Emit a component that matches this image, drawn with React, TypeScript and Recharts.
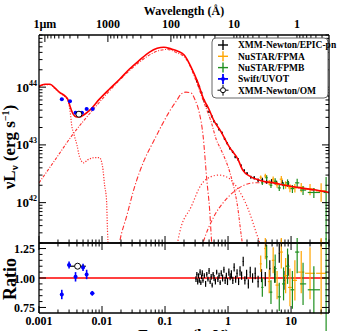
import React from "react";
import { ComposedChart, Line, Scatter, ErrorBar, XAxis, YAxis, ReferenceLine } from "recharts";

const FONT = "'Liberation Serif', 'Times New Roman', serif";
const RED = "#ff0000";
const COMP = "#ff3030";
const ORANGE = "#ffa500";
const GREEN = "#1f8f1f";
const BLUE = "#0000ff";

// energy axis (keV) and wavelength labels on top
const energyMajors = [0.001, 0.01, 0.1, 1, 10];
const waveMajors = [10000, 1000, 100, 10, 1];
const waveLabels = ["1\u00b5m", "1000", "100", "10", "1"];
const lumMajors = [1e42, 1e43, 1e44];
const ratioMajors = [0.75, 1.0, 1.25];
const ratioMinors = [0.75, 0.8, 0.85, 0.9, 0.95, 1.0, 1.05, 1.1, 1.15, 1.2, 1.25];

// ---- model curves, energy (keV) / nuLnu (erg s^-1)
const totalE = [0.001, 0.00124, 0.0015, 0.0018, 0.0021, 0.0026, 0.0029, 0.0031, 0.0034, 0.004, 0.0044, 0.0051, 0.0064, 0.0091, 0.013, 0.019, 0.027, 0.039, 0.056, 0.075, 0.096, 0.124, 0.16, 0.203, 0.26, 0.33, 0.41, 0.5, 0.59, 0.78, 1.04, 1.45, 1.7, 2.3, 3.0, 4.0, 5.3, 8.0, 14, 25, 40];
const totalL = [1.04e44, 1.12e44, 1.12e44, 9.6e43, 8.2e43, 7.0e43, 6.0e43, 4.7e43, 3.6e43, 3.05e43, 3.05e43, 3.3e43, 4.0e43, 6.2e43, 9.2e43, 1.37e44, 2.04e44, 2.9e44, 4.0e44, 4.7e44, 4.9e44, 4.6e44, 4.2e44, 3.56e44, 2.2e44, 1.22e44, 6.2e43, 4.1e43, 2.7e43, 1.67e43, 9.3e42, 5.5e42, 3.7e42, 2.8e42, 2.5e42, 2.3e42, 2.2e42, 2.0e42, 1.8e42, 1.65e42, 1.5e42];

const hostE = [0.001, 0.00124, 0.0015, 0.0018, 0.0021, 0.0026, 0.0029, 0.0031, 0.0033, 0.0036, 0.004, 0.0044, 0.0051, 0.0059, 0.0076, 0.0091, 0.0102, 0.011, 0.0118, 0.0122, 0.0126];
const hostL = [1.02e44, 1.1e44, 1.1e44, 9.4e43, 8.0e43, 6.8e43, 5.6e43, 4.0e43, 2.2e43, 1.5e43, 1.0e43, 6.2e42, 4.9e42, 5.5e42, 6.0e42, 6.0e42, 4.2e42, 2.0e42, 1.1e42, 3.4e41, 1.5e41];

const diskE = [0.001, 0.0018, 0.0033, 0.0071, 0.019, 0.039, 0.075, 0.108, 0.15, 0.21, 0.33, 0.4, 0.54, 0.65, 0.78, 1.1, 1.4, 1.7, 1.95];
const diskL = [2.2e42, 5.5e42, 1.43e43, 4.0e43, 1.32e44, 2.7e44, 4.2e44, 4.5e44, 4.0e44, 3.2e44, 1.08e44, 6.0e43, 2.5e43, 1.24e43, 8.1e42, 3.0e42, 9.3e41, 1.9e41, 1e41];

const warmE = [0.017, 0.0189, 0.025, 0.032, 0.047, 0.067, 0.089, 0.116, 0.155, 0.18, 0.215, 0.26, 0.3, 0.35, 0.4, 0.46, 0.51, 0.55, 0.58];
const warmL = [1e41, 2e41, 6.2e41, 1.7e42, 5.5e42, 1.2e43, 2.2e43, 3.7e43, 6.0e43, 7.6e43, 8.2e43, 7.9e43, 6.0e43, 3.6e43, 1.5e43, 2.5e42, 7.6e41, 2e41, 1e41];

const bumpE = [0.15, 0.17, 0.26, 0.37, 0.53, 0.72, 1.0, 1.45, 2.1, 2.8, 3.2, 3.4];
const bumpL = [1.5e41, 3.0e41, 8.5e41, 2.0e42, 2.8e42, 3.0e42, 2.7e42, 1.7e42, 7.6e41, 3.0e41, 1.9e41, 1.3e41];

const hotE = [0.37, 0.4, 0.6, 0.87, 1.24, 1.79, 2.6, 4.0, 6.0, 10, 14, 20, 40];
const hotL = [1.5e41, 2e41, 5.8e41, 1.05e42, 1.55e42, 2.0e42, 2.2e42, 2.22e42, 2.1e42, 1.88e42, 1.78e42, 1.68e42, 1.48e42];

// ---- data, upper panel
const pnE = [0.32, 0.35, 0.38, 0.42, 0.46, 0.5, 0.55, 0.6, 0.66, 0.72, 0.8, 0.88, 0.97, 1.07, 1.18, 1.3, 1.45, 1.6, 1.8, 2.0, 2.3, 2.6, 3.0, 3.5, 4.1, 4.9, 5.9, 7.2, 9.0];
const pnL = [1.28e44, 1.02e44, 8.0e43, 5.8e43, 4.7e43, 3.75e43, 3.15e43, 2.55e43, 2.25e43, 1.85e43, 1.62e43, 1.28e43, 1.07e43, 8.7e42, 7.6e42, 6.2e42, 5.6e42, 4.4e42, 3.6e42, 3.2e42, 2.75e42, 2.7e42, 2.45e42, 2.5e42, 2.3e42, 2.35e42, 2.2e42, 2.25e42, 2.15e42];
const pnFrac = [0.05, 0.05, 0.05, 0.05, 0.05, 0.05, 0.05, 0.05, 0.05, 0.05, 0.05, 0.05, 0.05, 0.05, 0.05, 0.05, 0.06, 0.06, 0.06, 0.06, 0.06, 0.07, 0.07, 0.08, 0.08, 0.09, 0.09, 0.1, 0.1];

const fpmaE = [3.3, 3.9, 4.5, 5.2, 6.0, 7.0, 8.2, 9.6, 11.5, 14.5, 20, 30];
const fpmaL = [2.75e42, 2.9e42, 2.25e42, 2.55e42, 2.05e42, 2.55e42, 2.05e42, 1.8e42, 1.8e42, 1.85e42, 1.72e42, 1.6e42];
const fpmaFrac = [0.07, 0.09, 0.1, 0.11, 0.12, 0.14, 0.15, 0.16, 0.17, 0.18, 0.22, 0.35];
const fpmaXf = [1.04, 1.04, 1.05, 1.05, 1.06, 1.06, 1.07, 1.07, 1.08, 1.12, 1.2, 1.2];

const fpmbE = [3.5, 4.1, 4.8, 5.6, 6.5, 7.6, 8.8, 10.5, 12.5, 15.5, 23, 36];
const fpmbL = [2.2e42, 2.7e42, 2.0e42, 2.35e42, 1.8e42, 1.98e42, 2.2e42, 1.75e42, 2.2e42, 1.65e42, 1.5e42, 1.5e42];
const fpmbFrac = [0.08, 0.1, 0.1, 0.12, 0.12, 0.14, 0.15, 0.16, 0.18, 0.18, 0.2, 0.85];
const fpmbXf = [1.04, 1.04, 1.05, 1.05, 1.06, 1.06, 1.07, 1.07, 1.08, 1.12, 1.25, 1.1];

const uvotE = [0.0023, 0.0031, 0.0038, 0.0048, 0.0057, 0.0071];
const uvotL = [6.2e43, 5.7e43, 3.6e43, 3.6e43, 4.2e43, 4.2e43];
const omE = [0.0043];
const omL = [3.4e43];

// ---- data, ratio panel
const pnRE = [0.31, 0.32, 0.33, 0.34, 0.35, 0.36, 0.37, 0.38, 0.39, 0.4, 0.42, 0.44, 0.46, 0.48, 0.5, 0.52, 0.54, 0.56, 0.58, 0.6, 0.63, 0.66, 0.69, 0.72, 0.75, 0.78, 0.82, 0.86, 0.9, 0.94, 0.98, 1.03, 1.08, 1.13, 1.19, 1.25, 1.32, 1.39, 1.47, 1.55, 1.64, 1.74, 1.85, 1.97, 2.1, 2.25, 2.45, 2.7, 3.0, 3.4, 3.9, 4.6, 5.5, 6.5, 7.7, 9.0];
const pnR = [0.99, 1.03, 0.97, 1.02, 0.98, 1.05, 0.96, 1.01, 1.04, 0.98, 1.02, 0.95, 1.03, 0.99, 1.06, 0.97, 1.01, 0.94, 1.03, 1.0, 0.97, 1.05, 0.99, 1.02, 0.96, 1.04, 1.0, 1.07, 0.98, 1.02, 0.97, 1.05, 1.01, 1.03, 0.98, 1.09, 0.99, 1.04, 0.97, 1.06, 1.02, 1.14, 0.98, 1.03, 0.95, 1.05, 1.0, 1.04, 0.97, 1.02, 0.99, 1.08, 1.03, 1.21, 0.98, 1.11];
const pnRErr = [0.025, 0.02, 0.025, 0.02, 0.02, 0.025, 0.02, 0.02, 0.025, 0.02, 0.02, 0.025, 0.02, 0.02, 0.025, 0.02, 0.025, 0.02, 0.02, 0.025, 0.025, 0.02, 0.025, 0.025, 0.02, 0.025, 0.03, 0.025, 0.03, 0.025, 0.03, 0.03, 0.03, 0.035, 0.03, 0.035, 0.03, 0.035, 0.03, 0.04, 0.035, 0.04, 0.035, 0.04, 0.04, 0.045, 0.04, 0.05, 0.05, 0.055, 0.06, 0.07, 0.07, 0.08, 0.08, 0.09];

const fpmaR = [1.12, 1.25, 0.97, 1.15, 0.94, 1.22, 1.02, 0.92, 0.98, 1.05, 1.04, 1.04];
const fpmaRErr = [0.07, 0.09, 0.1, 0.11, 0.12, 0.14, 0.15, 0.16, 0.17, 0.18, 0.22, 0.35];
const fpmbR = [0.92, 1.18, 0.88, 1.08, 0.84, 0.95, 1.1, 0.9, 1.22, 0.95, 0.9, 1.0];
const fpmbRErr = [0.08, 0.1, 0.1, 0.12, 0.12, 0.14, 0.15, 0.16, 0.18, 0.18, 0.2, 0.5];

const uvotRE = [0.0023, 0.003, 0.0038, 0.005, 0.0057, 0.007];
const uvotR = [0.86, 1.11, 1.01, 1.09, 1.03, 0.87];
const uvotRErr = [0.04, 0.03, 0.04, 0.03, 0.04, 0.02];
const uvotXf = [1.05, 1.06, 1.06, 1.05, 1.05, 1.08];
const omRE = [0.0041];
const omR = [1.1];

// ---- helpers to build series rows
const curve = (xs: number[], ys: number[]) => xs.map((x, i) => ({ x, y: ys[i] }));
const pts = (xs: number[], ys: number[], yerr: number[], xf: number[] | number, rel: boolean) =>
  xs.map((x, i) => {
    const f = Array.isArray(xf) ? xf[i] : xf;
    const e = rel ? ys[i] * yerr[i] : yerr[i];
    return { x, y: ys[i], ex: [x - x / f, x * f - x], ey: [e, e] };
  });

// major decades plus 2..9 minors inside [lo, hi]
const decadeTicks = (majors: number[], lo: number, hi: number) => {
  const base = Math.min(...majors) / 10;
  const out: number[] = [];
  [base, ...majors].forEach((m) => {
    for (let k = 1; k <= 9; k++) {
      const v = m * k;
      if (v >= lo && v <= hi) out.push(v);
    }
  });
  return out.sort((a, b) => a - b);
};
const energyTicks = decadeTicks(energyMajors, 0.001, 40);
const lumTicks = decadeTicks([1e42, 1e43, 1e44], 2e41, 8e44);
const waveTicks = decadeTicks(waveMajors, 0.31, 12398)
  .map((w) => 12.398 / w)
  .filter((e) => e >= 0.001 && e <= 40)
  .sort((a, b) => a - b);
const waveMajorE = waveMajors.map((w) => 12.398 / w);

const near = (v: number, list: number[]) => list.some((m) => Math.abs(v - m) <= Math.abs(m) * 1e-6);

const txt = { fontFamily: FONT, fontWeight: 700, fill: "#000", stroke: "none" } as const;

type Side = "top" | "bottom" | "left" | "right";
const makeTick =
  (side: Side, majors: number[], label?: (v: number, x: number, y: number) => React.ReactNode) =>
  (p: any) => {
    const { x, y, payload } = p;
    const v = payload.value;
    const major = near(v, majors);
    const len = major ? 7 : 3.5;
    let l;
    if (side === "bottom") l = <line x1={x} x2={x} y1={y} y2={y - len} />;
    else if (side === "top") l = <line x1={x} x2={x} y1={y} y2={y + len} />;
    else if (side === "left") l = <line x1={x} x2={x + len} y1={y} y2={y} />;
    else l = <line x1={x} x2={x - len} y1={y} y2={y} />;
    return (
      <g stroke="#000" strokeWidth={1}>
        {l}
        {major && label ? label(v, x, y) : null}
      </g>
    );
  };

const energyLabel = (v: number, x: number, y: number) => (
  <text x={x} y={y + 12} textAnchor="middle" fontSize={12} {...txt}>
    {String(v)}
  </text>
);
const waveLabel = (v: number, x: number, y: number) => {
  const i = waveMajorE.findIndex((e) => Math.abs(e - v) < e * 1e-6);
  return (
    <text x={x} y={y - 7} textAnchor="middle" fontSize={12} {...txt}>
      {waveLabels[i]}
    </text>
  );
};
const lumLabel = (v: number, x: number, y: number) => (
  <text x={x - 2} y={y + 4.5} textAnchor="end" fontSize={13} {...txt}>
    <tspan>10</tspan>
    <tspan dy={-6} fontSize={8}>
      {Math.round(Math.log10(v))}
    </tspan>
  </text>
);
const ratioLabel = (v: number, x: number, y: number) => (
  <text x={x - 4} y={y + 4.5} textAnchor="end" fontSize={12} {...txt}>
    {v.toFixed(2)}
  </text>
);

const none = () => <g />;
const blueDot = (p: any) => <circle cx={p.cx} cy={p.cy} r={2} fill={BLUE} />;
const openCircle = (p: any) => <circle cx={p.cx} cy={p.cy} r={3} fill="#fff" stroke="#000" strokeWidth={1} />;

const errSeries = (id: string, data: any[], color: string, shape: any, w = 1.2) => (
  <Scatter key={id} name={id} data={data} xAxisId="b" yAxisId="l" shape={shape} isAnimationActive={false}>
    <ErrorBar dataKey="ey" direction="y" width={0} stroke={color} strokeWidth={w} />
    <ErrorBar dataKey="ex" direction="x" width={0} stroke={color} strokeWidth={w} />
  </Scatter>
);

const axisLine = { stroke: "#000", strokeWidth: 1.3 };

const legendRows = [
  { label: "XMM-Newton/EPIC-pn", color: "#000", kind: "plus" },
  { label: "NuSTAR/FPMA", color: ORANGE, kind: "plus" },
  { label: "NuSTAR/FPMB", color: GREEN, kind: "plus" },
  { label: "Swift/UVOT", color: BLUE, kind: "dot" },
  { label: "XMM-Newton/OM", color: "#000", kind: "circle" },
];

export default function App() {
  return (
    <div style={{ position: "absolute", left: 0, top: 0, width: 346, height: 331, background: "#fff", overflow: "hidden" }}>
      <div style={{ position: "absolute", left: 0, top: 0 }}>
        <ComposedChart width={346} height={250} margin={{ top: 34, right: 16, bottom: 6, left: 38 }}>
          <XAxis xAxisId="b" dataKey="x" type="number" scale="log" domain={[0.001, 40]} allowDataOverflow
            ticks={energyTicks} interval={0} height={1} tickSize={0} tickMargin={0} axisLine={axisLine}
            tick={makeTick("bottom", energyMajors)} />
          <XAxis xAxisId="t" orientation="top" dataKey="x" type="number" scale="log" domain={[0.001, 40]} allowDataOverflow
            ticks={waveTicks} interval={0} height={1} tickSize={0} tickMargin={0} axisLine={axisLine}
            tick={makeTick("top", waveMajorE, waveLabel)} />
          <YAxis yAxisId="l" dataKey="y" type="number" scale="log" domain={[2e41, 8e44]} allowDataOverflow
            ticks={lumTicks} interval={0} width={1} tickSize={0} tickMargin={0} axisLine={axisLine}
            tick={makeTick("left", lumMajors, lumLabel)} />
          <YAxis yAxisId="r" orientation="right" type="number" scale="log" domain={[2e41, 8e44]} allowDataOverflow
            ticks={lumTicks} interval={0} width={1} tickSize={0} tickMargin={0} axisLine={axisLine}
            tick={makeTick("right", lumMajors)} />

          <Line xAxisId="b" yAxisId="l" data={curve(hostE, hostL)} dataKey="y" type="monotone" dot={false}
            stroke={COMP} strokeWidth={1.2} strokeDasharray="1.2 1.5" isAnimationActive={false} />
          <Line xAxisId="b" yAxisId="l" data={curve(diskE, diskL)} dataKey="y" type="monotone" dot={false}
            stroke={COMP} strokeWidth={1.1} strokeDasharray="3 1.5 1 1.5" isAnimationActive={false} />
          <Line xAxisId="b" yAxisId="l" data={curve(warmE, warmL)} dataKey="y" type="monotone" dot={false}
            stroke={COMP} strokeWidth={1.1} strokeDasharray="5 2 1.2 2" isAnimationActive={false} />
          <Line xAxisId="b" yAxisId="l" data={curve(bumpE, bumpL)} dataKey="y" type="monotone" dot={false}
            stroke={COMP} strokeWidth={1.2} strokeDasharray="1.2 2" isAnimationActive={false} />
          <Line xAxisId="b" yAxisId="l" data={curve(hotE, hotL)} dataKey="y" type="monotone" dot={false}
            stroke={COMP} strokeWidth={1.1} strokeDasharray="4 2 1.2 2" isAnimationActive={false} />

          {errSeries("pn", pts(pnE, pnL, pnFrac, 1.03, true), "#000", none)}
          {errSeries("fpma", pts(fpmaE, fpmaL, fpmaFrac, fpmaXf, true), ORANGE, none)}
          {errSeries("fpmb", pts(fpmbE, fpmbL, fpmbFrac, fpmbXf, true), GREEN, none)}
          {errSeries("uvot", pts(uvotE, uvotL, [0.05, 0.05, 0.05, 0.05, 0.05, 0.05], 1.06, true), BLUE, blueDot, 1.6)}
          {errSeries("om", pts(omE, omL, [0.0], 1.0, true), "#000", openCircle)}

          <Line xAxisId="b" yAxisId="l" data={curve(totalE, totalL)} dataKey="y" type="monotone" dot={false}
            stroke={RED} strokeWidth={1.6} isAnimationActive={false} />
        </ComposedChart>
      </div>

      <div style={{ position: "absolute", left: 0, top: 238 }}>
        <ComposedChart width={346} height={110} margin={{ top: 4, right: 16, bottom: 34, left: 38 }}>
          <XAxis xAxisId="b" dataKey="x" type="number" scale="log" domain={[0.001, 40]} allowDataOverflow
            ticks={energyTicks} interval={0} height={1} tickSize={0} tickMargin={0} axisLine={axisLine}
            tick={makeTick("bottom", energyMajors, energyLabel)} />
          <XAxis xAxisId="t" orientation="top" dataKey="x" type="number" scale="log" domain={[0.001, 40]} allowDataOverflow
            ticks={energyTicks} interval={0} height={1} tickSize={0} tickMargin={0} axisLine={axisLine}
            tick={makeTick("top", energyMajors)} />
          <YAxis yAxisId="l" dataKey="y" type="number" domain={[0.703, 1.297]} allowDataOverflow
            ticks={ratioMinors} interval={0} width={1} tickSize={0} tickMargin={0} axisLine={axisLine}
            tick={makeTick("left", ratioMajors, ratioLabel)} />
          <YAxis yAxisId="r" orientation="right" type="number" domain={[0.703, 1.297]} allowDataOverflow
            ticks={ratioMinors} interval={0} width={1} tickSize={0} tickMargin={0} axisLine={axisLine}
            tick={makeTick("right", ratioMajors)} />

          <ReferenceLine xAxisId="b" yAxisId="l" y={1} stroke={RED} strokeWidth={1.5} />

          {errSeries("pnR", pts(pnRE, pnR, pnRErr, 1.02, false), "#000", none)}
          {errSeries("fpmaR", pts(fpmaE, fpmaR, fpmaRErr, fpmaXf, false), ORANGE, none)}
          {errSeries("fpmbR", pts(fpmbE, fpmbR, fpmbRErr, fpmbXf, false), GREEN, none)}
          {errSeries("uvotR", pts(uvotRE, uvotR, uvotRErr, uvotXf, false), BLUE, blueDot, 1.6)}
          {errSeries("omR", pts(omRE, omR, [0.0], 1.35, false), "#000", openCircle)}
        </ComposedChart>
      </div>

      <svg width={346} height={331} style={{ position: "absolute", left: 0, top: 0, pointerEvents: "none" }}>
        <text x={184} y={15} textAnchor="middle" fontSize={12} {...txt}>Wavelength (Å)</text>
        <text transform="translate(15,147) rotate(-90)" textAnchor="middle" fontSize={17} {...txt}>
          <tspan>νL</tspan>
          <tspan fontSize={11} dy={3}>ν</tspan>
          <tspan dy={-3}> (erg s</tspan>
          <tspan fontSize={10} dy={-6}>−1</tspan>
          <tspan dy={6}>)</tspan>
        </text>
        <text transform="translate(16,279) rotate(-90)" textAnchor="middle" fontSize={18} {...txt}>Ratio</text>
        <text x={184} y={341} textAnchor="middle" fontSize={16} {...txt}>Energy (keV)</text>

        <rect x={212} y={38} width={116} height={60} rx={4} fill="#fff" stroke="#666" strokeWidth={1} />
        {legendRows.map((r, i) => {
          const cy = 45 + i * 11.3;
          return (
            <g key={r.label}>
              {r.kind === "circle" ? (
                <g stroke="#000" strokeWidth={1}>
                  <line x1={217.5} x2={220.5} y1={cy} y2={cy} />
                  <line x1={225.5} x2={228.5} y1={cy} y2={cy} />
                  <line x1={223} x2={223} y1={cy - 5.5} y2={cy - 2.5} />
                  <line x1={223} x2={223} y1={cy + 2.5} y2={cy + 5.5} />
                  <circle cx={223} cy={cy} r={2.5} fill="#fff" />
                </g>
              ) : (
                <g stroke={r.color} strokeWidth={r.kind === "dot" ? 1.8 : 1.4}>
                  <line x1={218} x2={228} y1={cy} y2={cy} />
                  <line x1={223} x2={223} y1={cy - 5} y2={cy + 5} />
                  {r.kind === "dot" ? <circle cx={223} cy={cy} r={2} fill={BLUE} stroke="none" /> : null}
                </g>
              )}
              <text x={238} y={cy + 3.3} fontSize={9.5} {...txt}>{r.label}</text>
            </g>
          );
        })}
      </svg>
    </div>
  );
}
